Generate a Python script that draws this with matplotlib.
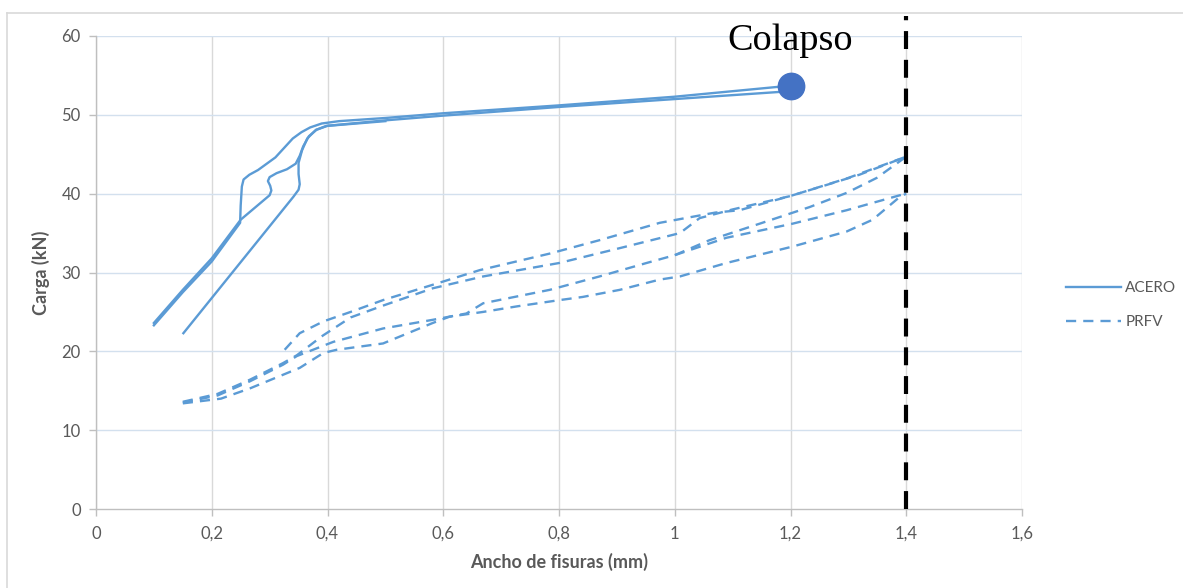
import numpy as np
import matplotlib
matplotlib.use("Agg")
from matplotlib import pyplot as plt
from matplotlib.lines import Line2D

plt.rcParams['font.family'] = ['Lato', 'DejaVu Sans']

# ACERO curves (ancho de fisura mm, carga kN)
acero_x1 = [0.10, 0.15, 0.20, 0.249, 0.25, 0.252, 0.255, 0.265, 0.28, 0.295, 0.31, 0.325, 0.34, 0.355, 0.37, 0.39, 0.42,
            0.50, 0.60, 0.80, 1.00, 1.20]
acero_y1 = [23.3, 27.5, 31.4, 36.3, 38.5, 40.9, 41.8, 42.4, 43.0, 43.8, 44.6, 45.8, 47.0, 47.8, 48.4, 48.9, 49.2,
            49.6, 50.2, 51.2, 52.3, 53.7]
acero_x2 = [0.10, 0.15, 0.20, 0.25, 0.30, 0.303, 0.301, 0.297, 0.300, 0.312, 0.33, 0.345, 0.352, 0.358, 0.368, 0.381,
            0.398, 0.50, 0.60, 0.80, 1.00, 1.20]
acero_y2 = [23.6, 27.8, 31.8, 36.7, 39.8, 40.4, 41.0, 41.6, 42.1, 42.6, 43.1, 43.8, 44.8, 46.0, 47.3, 48.1,
            48.6, 49.3, 49.9, 51.0, 52.0, 53.0]
acero_x3 = [0.151, 0.341, 0.350, 0.352, 0.350, 0.350, 0.356, 0.365, 0.38, 0.40, 0.50]
acero_y3 = [22.3, 39.6, 40.5, 41.2, 42.5, 43.9, 45.5, 47.0, 48.1, 48.6, 49.2]

# PRFV curves
prfv_x1 = [0.326, 0.352, 0.393, 0.44, 0.496, 0.58, 0.663, 0.784, 0.87, 0.974, 1.07, 1.112, 1.204, 1.262, 1.319, 1.40]
prfv_y1 = [20.2, 22.3, 23.8, 25.0, 26.5, 28.4, 30.3, 32.4, 34.1, 36.3, 37.6, 37.9, 39.8, 41.1, 42.4, 44.7]
prfv_x2 = [0.15, 0.21, 0.266, 0.323, 0.347, 0.392, 0.44, 0.496, 0.582, 0.669, 0.80, 0.90, 1.009, 1.043, 1.10, 1.20, 1.30, 1.40]
prfv_y2 = [13.6, 14.6, 16.4, 18.5, 19.5, 22.0, 24.3, 25.8, 28.0, 29.5, 31.2, 33.0, 35.0, 36.9, 38.0, 39.7, 42.0, 44.7]
prfv_x3 = [0.15, 0.21, 0.266, 0.323, 0.347, 0.41, 0.496, 0.582, 0.64, 0.669, 0.784, 0.87, 0.951, 1.00, 1.06, 1.147, 1.233, 1.297, 1.349, 1.40]
prfv_y3 = [13.5, 14.4, 16.2, 18.3, 19.4, 21.2, 22.9, 24.0, 24.8, 26.1, 27.8, 29.5, 31.2, 32.2, 34.1, 36.2, 38.3, 40.1, 42.0, 44.7]
prfv_x4 = [1.00, 1.089, 1.204, 1.297, 1.389, 1.40]
prfv_y4 = [32.2, 34.4, 36.2, 37.9, 39.8, 40.0]
prfv_x5 = [0.15, 0.216, 0.266, 0.352, 0.393, 0.416, 0.496, 0.582, 0.611, 0.669, 0.727, 0.801, 0.841, 0.905, 0.974, 1.009, 1.089, 1.204, 1.297, 1.342, 1.389, 1.40]
prfv_y5 = [13.4, 14.0, 15.3, 17.9, 19.8, 20.2, 21.0, 23.6, 24.4, 25.0, 25.7, 26.5, 26.9, 27.8, 29.1, 29.5, 31.2, 33.3, 35.2, 36.7, 39.6, 40.0]

colapso_x, colapso_y = 1.2, 53.7
limite_x = 1.4

x_ticks = [0, 0.2, 0.4, 0.6, 0.8, 1.0, 1.2, 1.4, 1.6]
x_labels = ['0', '0,2', '0,4', '0,6', '0,8', '1', '1,2', '1,4', '1,6']
y_ticks = [0, 10, 20, 30, 40, 50, 60]

BLUE = '#5b9bd5'
GREY_TXT = '#595959'

fig = plt.figure(figsize=(11.83, 5.88), dpi=100)
ax = fig.add_axes([96/1183, 1-509/588, (1022-96)/1183, (509-36)/588])

for xs, ys in [(acero_x1, acero_y1), (acero_x2, acero_y2), (acero_x3, acero_y3)]:
    ax.plot(xs, ys, color=BLUE, linewidth=1.7, solid_joinstyle='round')
for xs, ys in [(prfv_x1, prfv_y1), (prfv_x2, prfv_y2), (prfv_x3, prfv_y3),
               (prfv_x4, prfv_y4), (prfv_x5, prfv_y5)]:
    ax.plot(xs, ys, color=BLUE, linewidth=1.7, dashes=(4.3, 3.0))

ax.plot([colapso_x], [colapso_y], 'o', color='#4472c4', markersize=19, zorder=5)
ax.text(colapso_x, 59.4, 'Colapso', family='Liberation Serif', fontsize=27.5,
        ha='center', va='center', color='black')

# limit line, runs a bit above the plot area
ax.plot([limite_x, limite_x], [0, 62.5], color='black', linewidth=3,
        dashes=(4.3, 2.6), clip_on=False, zorder=4)

ax.set_xlim(0, 1.6)
ax.set_ylim(0, 60)
ax.set_xticks(x_ticks)
ax.set_xticklabels(x_labels)
ax.set_yticks(y_ticks)
for t in x_ticks:
    ax.axvline(t, color='#d9d9d9', linewidth=1, zorder=0)
for t in y_ticks[1:]:
    ax.axhline(t, color='#d3e0ee', linewidth=1, zorder=0)

for s in ['top', 'right']:
    ax.spines[s].set_visible(False)
for s in ['left', 'bottom']:
    ax.spines[s].set_color('#bfbfbf')
    ax.spines[s].set_linewidth(1)
ax.tick_params(axis='both', colors='#bfbfbf', labelcolor=GREY_TXT, labelsize=12,
               length=5, width=1, direction='out')
ax.tick_params(axis='x', pad=7)
ax.tick_params(axis='y', pad=6)

ax.set_xlabel('Ancho de fisuras (mm)', fontsize=13, fontweight='bold', color=GREY_TXT, labelpad=8)
ax.set_ylabel('Carga (kN)', fontsize=13, fontweight='bold', color=GREY_TXT, labelpad=8)

handles = [Line2D([], [], color=BLUE, linewidth=1.7),
           Line2D([], [], color=BLUE, linewidth=1.7, dashes=(4.3, 3.0))]
fig.legend(handles, ['ACERO', 'PRFV'], loc='center left', bbox_to_anchor=(1052/1183, 1-305/588),
           frameon=False, fontsize=11, handlelength=3.6, labelspacing=1.3, handletextpad=0.3,
           labelcolor=GREY_TXT)

# outer chart border
fig.add_artist(Line2D([7/1183, 7/1183], [0, 1-13/588], color='#d9d9d9', linewidth=1.2))
fig.add_artist(Line2D([7/1183, 1], [1-13/588, 1-13/588], color='#d9d9d9', linewidth=1.2))

fig.savefig('out.png', dpi=100)
